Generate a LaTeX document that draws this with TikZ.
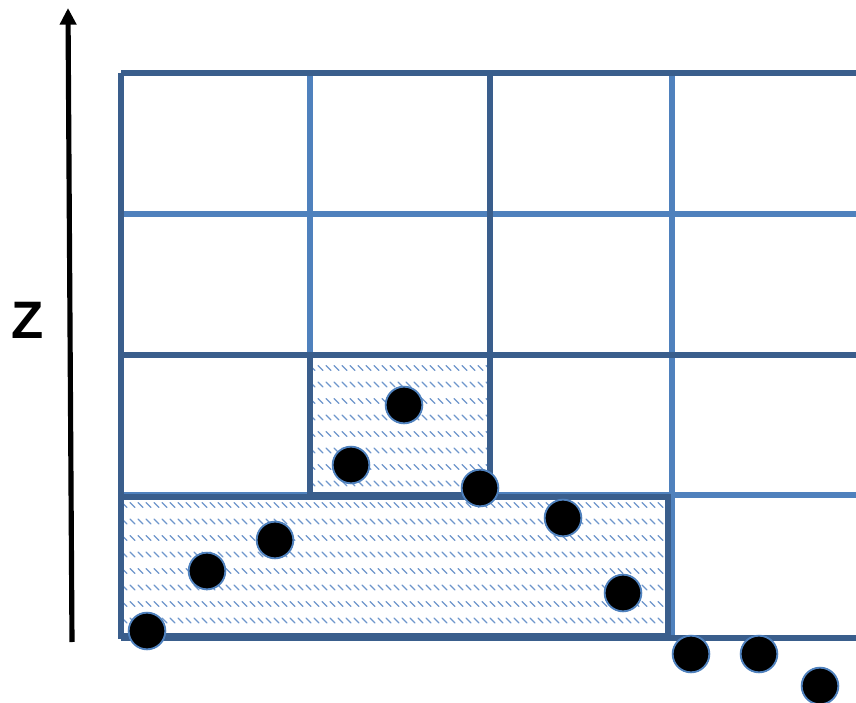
\documentclass[tikz,border=0pt]{standalone}
\usepackage{fontspec}
\setmainfont{Liberation Sans}
\usepackage{xcolor}
\usepackage{tikz}
\usetikzlibrary{arrows.meta,positioning,calc}

\definecolor{gridlight}{HTML}{4F81BD}
\definecolor{griddark}{HTML}{3A5E8C}
\definecolor{hatchblue}{HTML}{6E96CC}

\begin{document}
\begin{tikzpicture}[
    x=0.03cm, y=-0.03cm,
    >=Triangle,
    light/.style={draw=gridlight, line width=4.6pt},
    dark/.style={draw=griddark, line width=4.6pt},
    hatchline/.style={draw=hatchblue, line width=1.1pt, line cap=round},
    dot/.style={circle, fill=black, draw=gridlight, line width=1.6pt, minimum size=1.1cm, inner sep=0pt},
    axis/.style={-{Triangle[length=5mm,width=4.8mm]}, line width=4.4pt, black}
]
\useasboundingbox (0,0) rectangle (856,703);

% grid
\draw[light] (310,73) -- (310,355);
\draw[light] (672,73) -- (672,638);
\draw[light] (121,214) -- (856,214);
\draw[light] (121,495) -- (856,495);
\draw[dark] (490,73) -- (490,495);
\draw[dark] (121,355) -- (856,355);
\draw[dark] (121,638) -- (856,638);
\draw[dark] (121,73) -- (856,73);
\draw[dark] (121,73) -- (121,638);

% hatched cells
\fill[white] (121,497) rectangle (668,636);
\fill[white] (310,355) rectangle (490,495);
\begin{scope}
  \clip (123,500) rectangle (666,634);
  \foreach \y in {505,521.5,...,635}
    \foreach \x in {122,130,...,670}
      \draw[hatchline] (\x,\y-2.5) -- (\x+5,\y+2.5);
\end{scope}
\begin{scope}
  \clip (312,358) rectangle (488,493);
  \foreach \y in {368,384.5,...,495}
    \foreach \x in {310,318,...,492}
      \draw[hatchline] (\x,\y-2.5) -- (\x+5,\y+2.5);
\end{scope}
\draw[dark] (121,497) rectangle (668,636);
\draw[dark] (310,355) rectangle (490,495);

% points
\node[dot] (p1) at (147,631) {};
\node[dot] (p2) at (207,571) {};
\node[dot] (p3) at (275,540) {};
\node[dot] (p4) at (351,465) {};
\node[dot] (p5) at (404,405) {};
\node[dot] (p6) at (480,488) {};
\node[dot] (p7) at (563,518) {};
\node[dot] (p8) at (623,593) {};
\node[dot] (p9) at (691,654) {};
\node[dot] (p10) at (759,654) {};
\node[dot] (p11) at (820,686) {};

% z axis
\coordinate (zbot) at (72,642);
\coordinate (ztop) at (68,8);
\draw[axis] (zbot) -- (ztop);
\node[font=\bfseries\fontsize{45}{50}\selectfont, inner sep=0pt] (zlabel) at (28,320) {Z};
\end{tikzpicture}
\end{document}
